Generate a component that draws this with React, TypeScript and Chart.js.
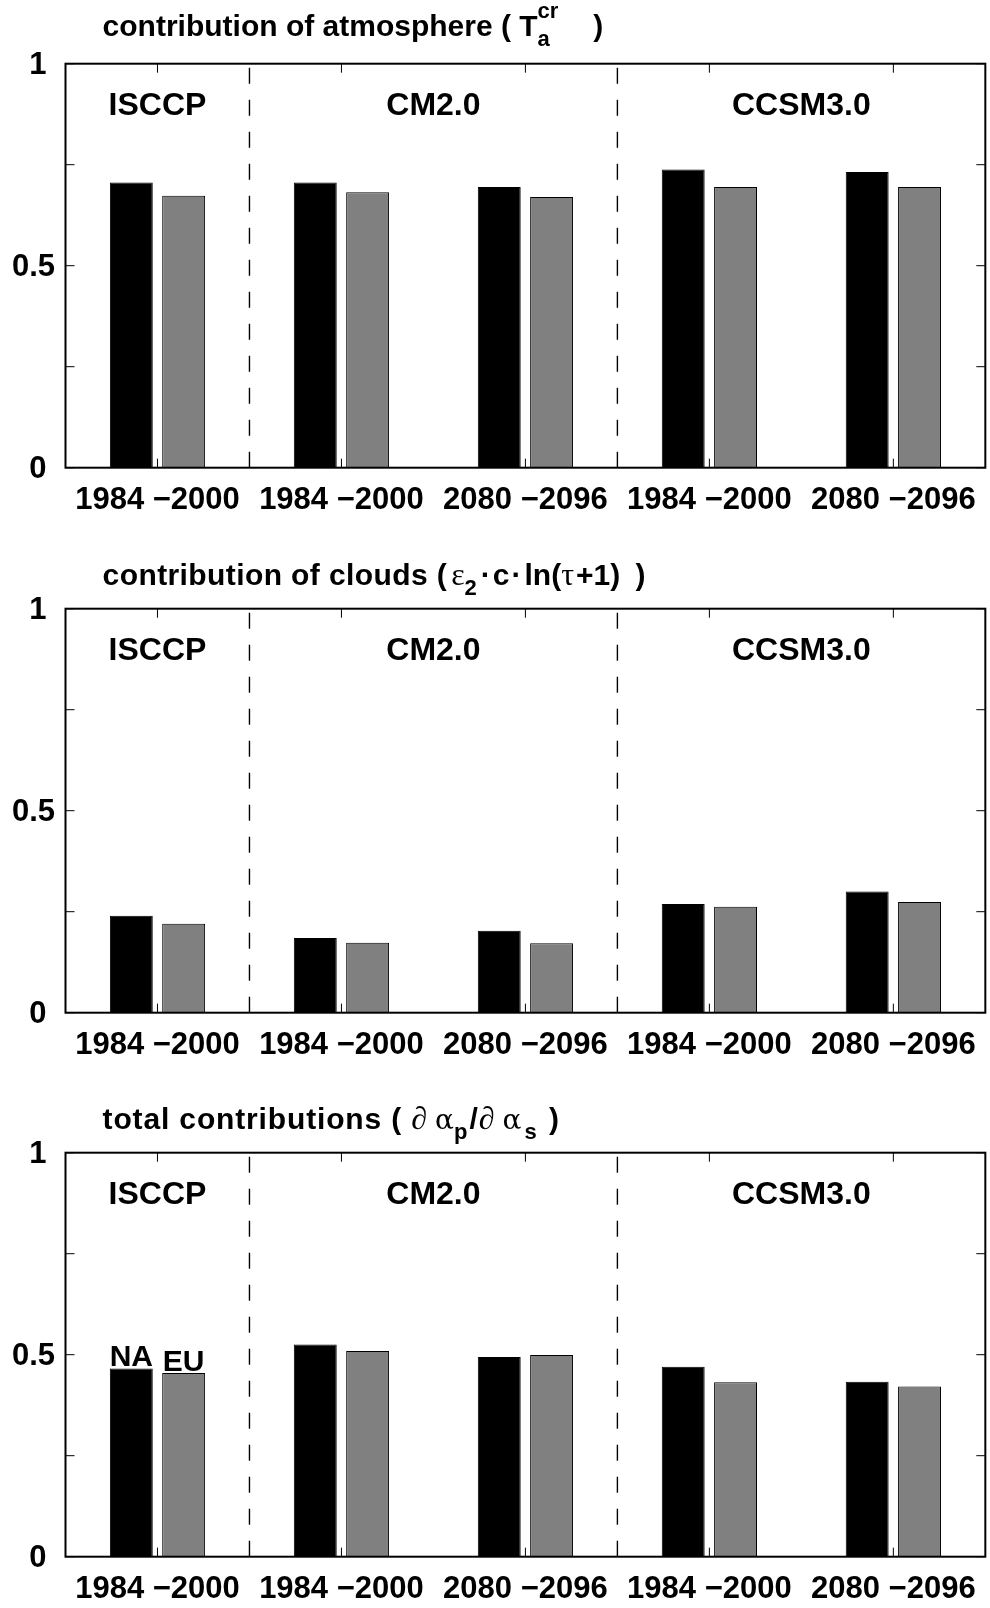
import React, { useEffect, useRef } from 'react';
import { Chart, registerables } from 'chart.js';

Chart.register(...registerables);

// ---------------- data ----------------
const categories = ['1984 −2000', '1984 −2000', '2080 −2096', '1984 −2000', '2080 −2096'];
const seriesNames = ['NA', 'EU'];

const atmosphereNA = [0.706, 0.706, 0.695, 0.738, 0.732];
const atmosphereEU = [0.673, 0.682, 0.670, 0.695, 0.695];

const cloudsNA = [0.240, 0.185, 0.203, 0.269, 0.300];
const cloudsEU = [0.220, 0.173, 0.172, 0.262, 0.274];

const totalNA = [0.466, 0.525, 0.494, 0.470, 0.433];
const totalEU = [0.455, 0.509, 0.499, 0.432, 0.421];

const yTickValues = [0, 0.25, 0.5, 0.75, 1];
const yTickLabels = ['0 ', '', '0.5', '', '1 '];

const groupLabels = ['ISCCP', 'CM2.0', 'CCSM3.0'];
const groupCenters = [0, 1.5, 3.5];
const groupLabelY = 0.9;
const dividers = [0.5, 2.5];

// ---------------- text helpers ----------------
const SANS = '"Liberation Sans", Arial, Helvetica, sans-serif';
const SERIF = '"Liberation Serif", "Times New Roman", serif';
const SERIF2 = '"DejaVu Serif", "Liberation Serif", serif';
const fontB = (px: number) => `bold ${px}px ${SANS}`;

type Seg = {
  t?: string;
  f?: 'b' | 'sym' | 'syma' | 'sub' | 'sup';
  noAdvance?: boolean;
  gap?: number;
  ls?: number;
};

const title1: Seg[] = [
  { t: 'contribution of atmosphere ( ', f: 'b' },
  { t: 'T', f: 'b' },
  { t: 'cr', f: 'sup', noAdvance: true },
  { t: 'a', f: 'sub' },
  { gap: 35 },
  { t: ' )', f: 'b' },
];
const title2: Seg[] = [
  { t: 'contribution of clouds (', f: 'b', ls: 0.4 },
  { gap: 4 },
  { t: 'ε', f: 'sym' },
  { t: '2', f: 'sub' },
  { gap: 4 },
  { t: '·', f: 'b' },
  { gap: 2 },
  { t: 'c', f: 'b' },
  { gap: 2 },
  { t: '·', f: 'b' },
  { gap: 3 },
  { t: 'ln(', f: 'b' },
  { t: 'τ', f: 'sym' },
  { gap: 2 },
  { t: '+1)', f: 'b' },
  { gap: 7 },
  { t: ' )', f: 'b' },
];
const title3: Seg[] = [
  { t: 'total contributions ( ', f: 'b', ls: 0.85 },
  { t: '∂ ', f: 'sym' },
  { t: 'α', f: 'syma' },
  { t: 'p', f: 'sub' },
  { gap: 2 },
  { t: '/', f: 'b' },
  { gap: 1 },
  { t: '∂ ', f: 'sym' },
  { t: 'α', f: 'syma' },
  { gap: 3 },
  { t: 's', f: 'sub' },
  { gap: 4 },
  { t: ' )', f: 'b' },
];

function drawRich(ctx: CanvasRenderingContext2D, segs: Seg[], x0: number, y: number) {
  let x = x0;
  ctx.textAlign = 'left';
  ctx.textBaseline = 'alphabetic';
  ctx.fillStyle = '#000';
  for (const s of segs) {
    if (s.gap) {
      x += s.gap;
      continue;
    }
    let dy = 0;
    if (s.f === 'b') ctx.font = fontB(30);
    else if (s.f === 'sym') ctx.font = `32px ${SERIF}`;
    else if (s.f === 'syma') ctx.font = `28px ${SERIF2}`;
    else if (s.f === 'sub') {
      ctx.font = fontB(22);
      dy = 10;
    } else {
      ctx.font = fontB(22);
      dy = -18;
    }
    const text = s.t || '';
    if (s.ls) {
      let cx = x;
      for (const ch of text) {
        ctx.fillText(ch, cx, y + dy);
        cx += ctx.measureText(ch).width + s.ls;
      }
      if (!s.noAdvance) x = cx;
    } else {
      ctx.fillText(text, x, y + dy);
      if (!s.noAdvance) x += ctx.measureText(text).width;
    }
  }
}

// ---------------- panel ----------------
type PanelProps = {
  top: number;
  height: number;
  title: Seg[];
  titleY: number;
  na: number[];
  eu: number[];
  annotate?: boolean;
};

const AREA_TOP = 63.7;
const AREA_BOTTOM = 467.7;
const AREA_RIGHT = 986.7;
const AREA_LEFT = 65.5;
const W = 990;

function Panel({ top, height, title, titleY, na, eu, annotate }: PanelProps) {
  const ref = useRef<HTMLCanvasElement>(null);

  useEffect(() => {
    const overlay = {
      id: 'overlay',
      afterDraw(chart: any) {
        const { ctx, chartArea: a } = chart;
        const xs = chart.scales.x;
        const ys = chart.scales.y;
        ctx.save();
        ctx.strokeStyle = '#000';

        // dashed dividers (pattern starts at the bottom)
        ctx.lineWidth = 1.4;
        ctx.setLineDash([16, 16]);
        for (const d of dividers) {
          const px = xs.getPixelForValue(d);
          ctx.beginPath();
          ctx.moveTo(px, ys.getPixelForValue(0));
          ctx.lineTo(px, ys.getPixelForValue(1));
          ctx.stroke();
        }
        ctx.setLineDash([]);

        // inward ticks
        ctx.lineWidth = 1;
        for (const v of yTickValues) {
          const py = ys.getPixelForValue(v);
          ctx.beginPath();
          ctx.moveTo(a.left, py);
          ctx.lineTo(a.left + 9, py);
          ctx.moveTo(a.right - 9, py);
          ctx.lineTo(a.right, py);
          ctx.stroke();
        }
        for (let i = 0; i < categories.length; i++) {
          const px = xs.getPixelForValue(i);
          ctx.beginPath();
          ctx.moveTo(px, a.bottom);
          ctx.lineTo(px, a.bottom - 9);
          ctx.moveTo(px, a.top);
          ctx.lineTo(px, a.top + 9);
          ctx.stroke();
        }

        // box
        ctx.lineWidth = 2;
        ctx.strokeRect(a.left, a.top, a.right - a.left, a.bottom - a.top);

        // group labels
        ctx.fillStyle = '#000';
        ctx.font = fontB(32);
        ctx.textAlign = 'center';
        ctx.textBaseline = 'middle';
        groupLabels.forEach((g, i) => {
          ctx.fillText(g, xs.getPixelForValue(groupCenters[i]), ys.getPixelForValue(groupLabelY) + 2);
        });

        // NA / EU annotations
        if (annotate) {
          ctx.font = fontB(30);
          ctx.textBaseline = 'alphabetic';
          seriesNames.forEach((name, i) => {
            const el = chart.getDatasetMeta(i).data[0];
            ctx.fillText(name, el.x, el.y - 2);
          });
        }

        // title
        drawRich(ctx, title, 102.6, titleY);
        ctx.restore();
      },
    };

    const tickFont = { family: SANS, size: 31, weight: 'bold' as const };

    const chart = new Chart(ref.current as HTMLCanvasElement, {
      type: 'bar',
      data: {
        labels: categories,
        datasets: [
          {
            label: seriesNames[0],
            data: na,
            backgroundColor: '#000000',
            borderColor: '#000000',
            borderWidth: 1,
            categoryPercentage: 0.569,
            barPercentage: 0.82,
          },
          {
            label: seriesNames[1],
            data: eu,
            backgroundColor: '#808080',
            borderColor: '#000000',
            borderWidth: 1,
            categoryPercentage: 0.569,
            barPercentage: 0.82,
          },
        ],
      },
      options: {
        responsive: false,
        animation: false,
        devicePixelRatio: 1,
        layout: { padding: { left: 0, right: W - AREA_RIGHT, top: AREA_TOP, bottom: 0 } },
        plugins: {
          legend: { display: false },
          tooltip: { enabled: false },
          title: { display: false },
        },
        scales: {
          x: {
            type: 'category',
            offset: true,
            grid: { display: false, drawTicks: false },
            border: { display: false },
            ticks: {
              font: tickFont,
              color: '#000',
              padding: 14,
              maxRotation: 0,
              minRotation: 0,
              autoSkip: false,
            },
            afterFit: (s: any) => {
              s.height = height - AREA_BOTTOM;
            },
          },
          y: {
            min: 0,
            max: 1,
            afterBuildTicks: (s: any) => {
              s.ticks = yTickValues.map((v) => ({ value: v }));
            },
            grid: { display: false, drawTicks: false },
            border: { display: false },
            ticks: {
              font: tickFont,
              color: '#000',
              padding: 10.5,
              labelOffset: 2,
              callback: (v: any) => {
                const i = yTickValues.indexOf(Number(v));
                return i >= 0 ? yTickLabels[i] : '';
              },
            },
            afterFit: (s: any) => {
              s.width = AREA_LEFT;
            },
          },
        },
      },
      plugins: [overlay],
    } as any);

    return () => chart.destroy();
  }, []);

  return (
    <canvas
      ref={ref}
      width={W}
      height={height}
      style={{ position: 'absolute', left: 0, top, width: W, height, display: 'block' }}
    />
  );
}

export default function App() {
  return (
    <div style={{ position: 'absolute', left: 0, top: 0, width: 990, height: 1608, background: '#fff' }}>
      <Panel top={0} height={545} title={title1} titleY={36} na={atmosphereNA} eu={atmosphereEU} />
      <Panel top={545} height={544} title={title2} titleY={40} na={cloudsNA} eu={cloudsEU} />
      <Panel top={1089} height={519} title={title3} titleY={40} na={totalNA} eu={totalEU} annotate />
    </div>
  );
}
